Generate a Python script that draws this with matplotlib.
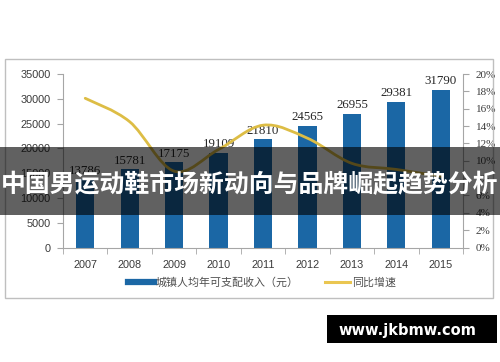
import matplotlib
matplotlib.use("Agg")
import matplotlib.pyplot as plt
import numpy as np
from matplotlib.path import Path
from matplotlib.patches import PathPatch, Rectangle
from matplotlib.lines import Line2D

years = ["2007", "2008", "2009", "2010", "2011", "2012", "2013", "2014", "2015"]
income = [13786, 15781, 17175, 19109, 21810, 24565, 26955, 29381, 31790]
growth = [17.2, 14.5, 8.8, 11.3, 14.1, 12.6, 9.7, 9.0, 8.2]
left_ticks = [0, 5000, 10000, 15000, 20000, 25000, 30000, 35000]
right_ticks = [0, 2, 4, 6, 8, 10, 12, 14, 16, 18, 20]
legend_labels = ["城镇人均年可支配收入（元）", "同比增速"]
title = "中国男运动鞋市场新动向与品牌崛起趋势分析"
watermark = "www.jkbmw.com"

BLUE = "#1B67A5"
GOLD = "#DDBD45"
TXT = "#3A3A3A"
GRID = "#A6A6A6"
SERIF = "Liberation Serif"
SANS = "Liberation Sans"
CJK = ["Noto Sans CJK SC", "DejaVu Sans"]

fig = plt.figure(figsize=(5, 3.62), dpi=100)
W, H = 500, 362

def fx(px):
    return px / W

def fy(py):
    return 1 - py / H

# outer frame
fig.patches.append(Rectangle((fx(5), fy(298)), fx(488), 239 / H, transform=fig.transFigure,
                             facecolor="none", edgecolor="#BFBFBF", lw=1.0, zorder=0))

ax = fig.add_axes([fx(63), fy(247.5), fx(400), (247.5 - 74) / H])
x = np.arange(len(years))
ax.bar(x, income, width=0.41, color=BLUE, zorder=2)
ax.set_xlim(-0.5, len(years) - 0.5)
ax.set_ylim(0, 35000)
ax.set_yticks(left_ticks)
ax.set_yticklabels([str(v) for v in left_ticks], fontfamily=SANS, fontsize=7.8, color=TXT)
ax.set_xticks(x)
ax.set_xticklabels(years, fontfamily=SANS, fontsize=7.8, color=TXT)
ax.set_xticks(np.arange(-0.5, len(years), 1.0), minor=True)
ax.tick_params(axis="x", which="major", length=0, pad=9)
ax.tick_params(axis="x", which="minor", length=4, color=GRID, direction="out")
ax.tick_params(axis="y", length=4, color=GRID, pad=5)
for s in ["top", "right"]:
    ax.spines[s].set_visible(False)
ax.spines["left"].set_color(GRID)
ax.spines["bottom"].set_color(GRID)

for xi, v in zip(x, income):
    ax.text(xi, v + 500, str(v), ha="center", va="bottom", fontfamily=SERIF,
            fontsize=9.3, color="#262626", zorder=3)

ax2 = ax.twinx()
ax2.set_ylim(0, 20)
ax2.set_yticks(right_ticks)
ax2.set_yticklabels([f"{v}%" for v in right_ticks], fontfamily=SERIF, fontsize=8, color=TXT)
ax2.tick_params(axis="y", length=4, color=GRID, pad=5)
for s in ["top", "left", "bottom"]:
    ax2.spines[s].set_visible(False)
ax2.spines["right"].set_color(GRID)

# smooth line (Catmull-Rom -> cubic Bezier) through the data points
pts = np.column_stack([x.astype(float), np.array(growth, float)])
verts = [tuple(pts[0])]
codes = [Path.MOVETO]
n = len(pts)
for i in range(n - 1):
    p0 = pts[max(i - 1, 0)]
    p1 = pts[i]
    p2 = pts[i + 1]
    p3 = pts[min(i + 2, n - 1)]
    c1 = p1 + (p2 - p0) / 6.0
    c2 = p2 - (p3 - p1) / 6.0
    verts += [tuple(c1), tuple(c2), tuple(p2)]
    codes += [Path.CURVE4] * 3
ax2.add_patch(PathPatch(Path(verts, codes), facecolor="none", edgecolor=GOLD, lw=2.0,
                        capstyle="round", zorder=3))

handles = [Line2D([], [], color=BLUE, lw=4.5), Line2D([], [], color="#EAC651", lw=2.2)]
leg = fig.legend(handles, legend_labels, loc="center", bbox_to_anchor=(fx(262), fy(283)),
                 ncol=2, frameon=False, handlelength=2.3, handletextpad=0.15,
                 columnspacing=2.4, prop={"family": CJK, "size": 7.9})
for t in leg.get_texts():
    t.set_color("#505050")

# title banner overlay
fig.patches.append(Rectangle((0, fy(215)), 1, 68 / H, transform=fig.transFigure,
                             facecolor="black", alpha=0.62, edgecolor="none", zorder=10))
fig.text(0.5, fy(185), title, ha="center", va="center", color="white", fontsize=17.9,
         fontweight="bold", family=CJK, zorder=11)

# watermark
fig.patches.append(Rectangle((fx(327), fy(343)), fx(170), 28 / H, transform=fig.transFigure,
                             facecolor="black", edgecolor="none", zorder=10))
fig.text(fx(407.5), fy(330), watermark, ha="center", va="center", color="white",
         fontsize=10.5, fontweight="bold", family="DejaVu Sans", zorder=11)

fig.savefig("out.png", dpi=100)
